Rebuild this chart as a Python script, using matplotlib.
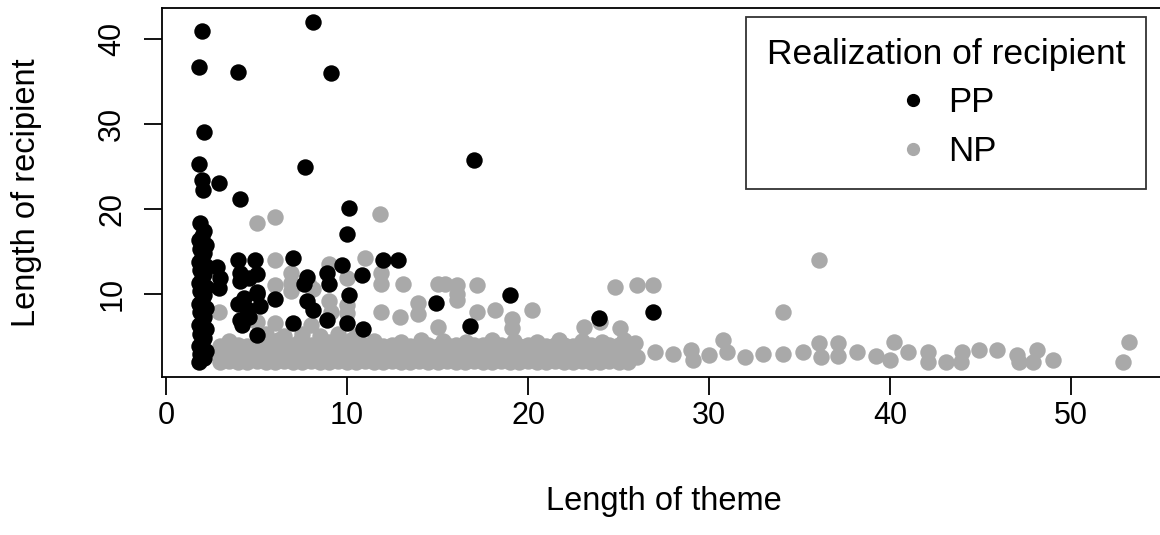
import matplotlib
matplotlib.use("Agg")
import matplotlib.pyplot as plt
from matplotlib.lines import Line2D

plt.rcParams['font.family'] = ['Liberation Sans', 'DejaVu Sans']

# PP recipients (black)
pp_x = [2.0, 8.1, 1.8, 4.0, 9.1, 2.1, 1.8, 7.7, 17.0, 2.0, 2.9, 2.05, 4.1, 10.1, 10.0,
        # column at theme length 2
        1.8, 2.1, 1.9, 2.2, 1.8, 2.0, 2.1, 1.9, 2.2, 1.8, 2.0, 2.1, 1.9, 2.2, 1.8, 2.0, 2.1,
        1.9, 2.2, 1.8, 2.0, 2.1, 1.9, 2.2, 1.8, 2.0, 2.1, 1.9, 2.2, 1.8, 2.0, 2.1, 1.9,
        2.8, 3.0, 2.9,
        4.0, 4.9, 4.1, 4.6, 5.0, 4.1, 5.0, 4.3, 4.0, 4.5, 5.2, 4.1, 4.6, 4.2, 5.0, 5.0, 6.0,
        7.0, 7.8, 8.9, 9.0, 7.6, 7.8, 8.1, 7.0, 8.9, 10.0, 10.9, 10.1, 10.8, 9.7, 12.0, 12.8,
        14.9, 19.0, 16.8, 23.9, 26.9]
pp_y = [41.0, 42.0, 36.8, 36.1, 36.0, 29.1, 25.3, 25.0, 25.8, 23.4, 23.1, 22.2, 21.2, 20.1, 17.1,
        2.0, 2.4, 2.9, 3.3, 3.8, 4.3, 4.8, 5.3, 5.8, 6.3, 6.8, 7.3, 7.8, 8.3, 8.8, 9.3, 9.8,
        10.3, 10.8, 11.3, 11.8, 12.3, 12.8, 13.3, 13.8, 14.3, 14.8, 15.3, 15.8, 16.3, 16.8, 17.4, 18.3,
        13.2, 11.9, 10.7,
        14.0, 14.0, 12.5, 11.9, 12.3, 11.5, 10.2, 9.5, 8.8, 8.2, 8.5, 6.9, 7.3, 6.3, 5.1, 10.0, 9.4,
        14.2, 12.0, 12.5, 11.1, 11.2, 9.1, 8.1, 6.6, 6.9, 6.5, 5.9, 9.8, 12.2, 13.4, 14.0, 14.0,
        8.9, 9.8, 6.2, 7.1, 7.9]

# NP recipients (grey), scattered points above the dense band
np_x = [5.0, 6.0, 11.8, 6.0, 11.0, 9.0, 6.9, 6.9, 6.9, 6.0, 7.9, 8.1, 10.0, 11.9, 11.9,
        13.1, 15.0, 15.4, 16.1, 16.1, 16.1, 17.2, 10.0, 9.0, 2.9, 5.0, 6.0, 8.0, 9.1, 10.0,
        11.9, 12.9, 13.9, 13.9, 15.0, 17.2, 18.2, 19.1, 19.1, 20.2, 23.1, 24.0, 24.8, 26.0,
        26.9, 25.1, 34.1, 36.1, 5.5, 6.5, 7.5, 8.5, 9.5, 10.5,
        # sparse tail of the band
        25.9, 26.0, 27.0, 28.0, 29.0, 29.1, 30.0, 30.8, 31.0, 32.0, 33.0, 34.1, 35.2, 36.1,
        36.2, 37.1, 37.1, 38.2, 39.2, 40.2, 40.0, 41.0, 42.1, 42.1, 43.1, 44.0, 43.9, 44.9,
        45.9, 47.0, 47.1, 48.1, 47.9, 49.0, 53.2, 52.9]
np_y = [18.3, 19.0, 19.4, 14.0, 14.2, 13.5, 12.5, 11.3, 10.3, 11.0, 11.0, 10.6, 11.8, 12.5, 11.2,
        11.2, 11.2, 11.1, 11.0, 10.0, 9.3, 11.0, 8.7, 9.1, 7.9, 6.7, 6.5, 6.3, 7.9, 7.7,
        7.8, 7.3, 8.9, 7.6, 6.1, 7.9, 8.1, 7.0, 6.0, 8.1, 6.1, 6.7, 10.8, 11.0,
        11.0, 6.0, 7.9, 14.0, 5.2, 5.0, 5.3, 5.0, 5.3, 5.0,
        4.2, 2.5, 3.15, 2.95, 3.35, 2.2, 2.75, 4.5, 3.15, 2.5, 2.95, 2.95, 3.15, 4.2,
        2.5, 4.2, 2.6, 3.15, 2.6, 4.3, 2.2, 3.15, 3.15, 2.0, 1.9, 3.15, 2.0, 3.35,
        3.35, 2.75, 2.0, 3.35, 2.0, 2.2, 4.3, 2.0]

# dense NP band, theme length 3 to 25.5
band_x = [3.0, 3.5, 4.0, 4.5, 5.0, 5.5, 6.0, 6.5, 7.0, 7.5, 8.0, 8.5, 9.0, 9.5, 10.0, 10.5,
          11.0, 11.5, 12.0, 12.5, 13.0, 13.5, 14.0, 14.5, 15.0, 15.5, 16.0, 16.5, 17.0, 17.5,
          18.0, 18.5, 19.0, 19.5, 20.0, 20.5, 21.0, 21.5, 22.0, 22.5, 23.0, 23.5, 24.0, 24.5,
          25.0, 25.5]
band_y1 = [1.9, 2.1, 2.0, 1.9, 2.1, 2.0, 1.9, 2.1, 2.0, 1.9, 2.1, 2.0, 1.9, 2.1, 2.0, 1.9,
           2.1, 2.0, 1.9, 2.1, 2.0, 1.9, 2.1, 2.0, 1.9, 2.1, 2.0, 1.9, 2.1, 2.0, 1.9, 2.1,
           2.0, 1.9, 2.1, 2.0, 1.9, 2.1, 2.0, 1.9, 2.1, 2.0, 1.9, 2.1, 2.0, 1.9]
band_y2 = [2.9, 3.0, 2.8, 2.9, 3.0, 2.8, 2.9, 3.0, 2.8, 2.9, 3.0, 2.8, 2.9, 3.0, 2.8, 2.9,
           3.0, 2.8, 2.9, 3.0, 2.8, 2.9, 3.0, 2.8, 2.9, 3.0, 2.8, 2.9, 3.0, 2.8, 2.9, 3.0,
           2.8, 2.9, 3.0, 2.8, 2.9, 3.0, 2.8, 2.9, 3.0, 2.8, 2.9, 3.0, 2.8, 2.9]
band_y3 = [3.8, 3.9, 4.0, 3.8, 3.9, 4.0, 3.8, 3.9, 4.0, 3.8, 3.9, 4.0, 3.8, 3.9, 4.0, 3.8,
           3.9, 4.0, 3.8, 3.9, 4.0, 3.8, 3.9, 4.0, 3.8, 3.9, 4.0, 3.8, 3.9, 4.0, 3.8, 3.9,
           4.0, 3.8, 3.9, 4.0, 3.8, 3.9, 4.0, 3.8, 3.9, 4.0, 3.8, 3.9, 4.0, 3.8]
bump_x = [3.5, 5.0, 6.2, 7.4, 9.0, 10.2, 11.5, 13.0, 14.1, 15.3, 16.6, 18.0, 19.2, 20.5,
          21.7, 23.0, 24.1, 25.3]
bump_y = [4.4, 4.3, 4.5, 4.4, 4.3, 4.5, 4.4, 4.3, 4.5, 4.4, 4.3, 4.5, 4.4, 4.3,
          4.5, 4.4, 4.3, 4.5]

PP_COL = "black"
NP_COL = "#A9A9A9"
SIZE = 140

fig = plt.figure(figsize=(11.6, 5.35), dpi=100)
ax = fig.add_axes([0.1397, 0.2953, 0.8655, 0.6897])

for ys in (band_y1, band_y2, band_y3):
    ax.scatter(band_x, ys, s=SIZE, c=NP_COL, linewidths=0)
ax.scatter(bump_x, bump_y, s=SIZE, c=NP_COL, linewidths=0)
ax.scatter(np_x, np_y, s=SIZE, c=NP_COL, linewidths=0)
ax.scatter(pp_x, pp_y, s=SIZE, c=PP_COL, linewidths=0)

ax.set_xlim(-0.22, 55.25)
ax.set_ylim(0.18, 43.7)
ax.set_xticks([0, 10, 20, 30, 40, 50])
ax.set_yticks([10, 20, 30, 40])
ax.tick_params(axis='both', length=13, width=1.3, labelsize=22, direction='out')
ax.tick_params(axis='x', pad=4)
ax.tick_params(axis='y', pad=12)
for lab in ax.get_yticklabels():
    lab.set_rotation(90)
    lab.set_va('center')
for sp in ax.spines.values():
    sp.set_linewidth(1.3)

ax.set_xlabel("Length of theme", fontsize=23.5, labelpad=40)
ax.set_ylabel("Length of recipient", fontsize=23.5, labelpad=40)

handles = [Line2D([], [], ls='none', marker='o', ms=8.5, mfc=PP_COL, mec=PP_COL),
           Line2D([], [], ls='none', marker='o', ms=8.5, mfc=NP_COL, mec=NP_COL)]
leg = ax.legend(handles, ["PP", "NP"], title="Realization of recipient",
                loc='upper right', bbox_to_anchor=(1146 / 1160, 1 - 17 / 535),
                bbox_transform=fig.transFigure, fontsize=25, title_fontsize=25.5,
                frameon=True, fancybox=False, edgecolor='black', borderpad=0.6,
                labelspacing=0.45, handletextpad=0.5, handlelength=1.0, borderaxespad=0)
leg.get_frame().set_linewidth(1.3)

fig.savefig("out.png", dpi=100)
